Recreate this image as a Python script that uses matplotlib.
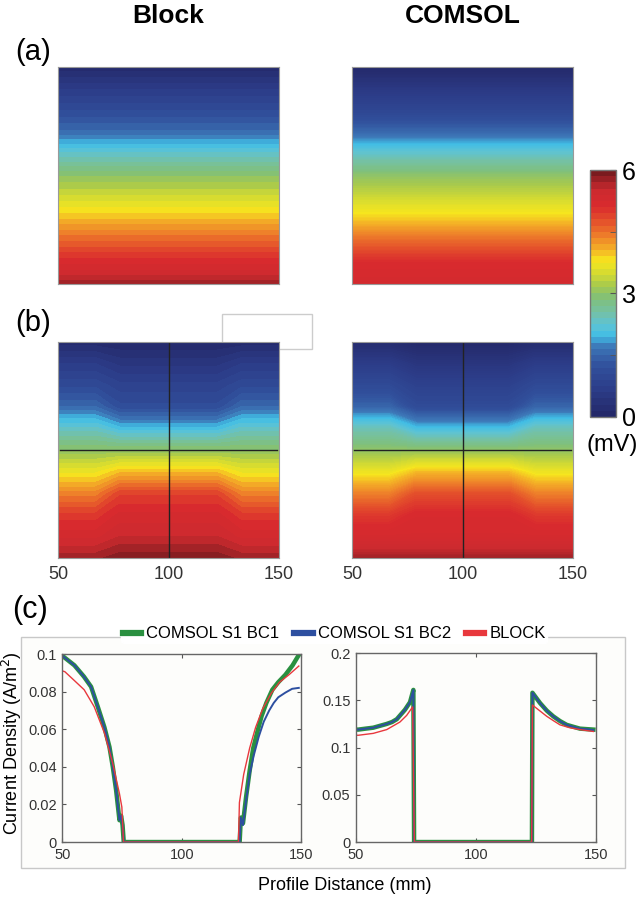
import numpy as np
import matplotlib.pyplot as plt
from matplotlib.colors import LinearSegmentedColormap, Normalize
from matplotlib.cm import ScalarMappable
from matplotlib.patches import Rectangle

plt.rcParams['font.family'] = ['Liberation Sans', 'DejaVu Sans']

# depth fraction of the profile (0 = top, 1 = bottom)
depth = [0.0, 0.1, 0.2, 0.3, 0.4, 0.5, 0.6, 0.7, 0.8, 0.9, 1.0]

# (a) potential in mV, uniform across the width
block_a = [0.05, 0.6, 1.05, 1.55, 2.3, 3.0, 3.5, 4.05, 4.65, 5.2, 5.8]
comsol_a = [0.0, 0.5, 0.9, 1.5, 2.3, 3.0, 3.45, 3.95, 4.6, 5.15, 5.35]

# (b) potential in mV, rows = depth, cols = x position (mm)
block_b_x = [50, 67, 78, 100, 122, 133, 150]
block_b = [
    [0.05, 0.05, 0.0, 0.0, 0.0, 0.05, 0.05],
    [0.6, 0.6, 0.4, 0.4, 0.4, 0.6, 0.6],
    [1.0, 1.0, 0.8, 0.8, 0.8, 1.0, 1.0],
    [1.5, 1.5, 1.1, 1.1, 1.1, 1.5, 1.5],
    [2.3, 2.3, 2.0, 2.0, 2.0, 2.3, 2.3],
    [3.0, 3.0, 3.0, 3.0, 3.0, 3.0, 3.0],
    [3.7, 3.7, 4.0, 4.0, 4.0, 3.7, 3.7],
    [4.4, 4.4, 4.9, 4.9, 4.9, 4.4, 4.4],
    [5.0, 5.0, 5.3, 5.3, 5.3, 5.0, 5.0],
    [5.35, 5.35, 5.55, 5.55, 5.55, 5.35, 5.35],
    [5.8, 5.8, 5.95, 5.95, 5.95, 5.8, 5.8],
]
comsol_b_x = [50, 67, 79, 100, 121, 133, 150]
comsol_b = [
    [0.1, 0.1, 0.0, 0.0, 0.0, 0.1, 0.1],
    [0.6, 0.6, 0.4, 0.4, 0.4, 0.6, 0.6],
    [1.0, 1.0, 0.75, 0.75, 0.75, 1.0, 1.0],
    [1.45, 1.45, 1.05, 1.05, 1.05, 1.45, 1.45],
    [2.4, 2.4, 2.0, 2.0, 2.0, 2.4, 2.4],
    [3.0, 3.0, 3.0, 3.0, 3.0, 3.0, 3.0],
    [3.7, 3.7, 4.0, 4.0, 4.0, 3.7, 3.7],
    [4.4, 4.4, 4.8, 4.8, 4.8, 4.4, 4.4],
    [5.0, 5.0, 5.2, 5.2, 5.2, 5.0, 5.0],
    [5.3, 5.3, 5.3, 5.3, 5.3, 5.3, 5.3],
    [5.8, 5.8, 5.8, 5.8, 5.8, 5.8, 5.8],
]

# (c) current density along the horizontal profile (left) and vertical profile (right)
green_l_x = [50, 51, 53.5, 55, 57, 59, 62, 64.8, 67.6, 69.7, 71.1, 72.5, 73.9, 74.6, 75.2, 75.7,
             124.3, 124.8, 125.7, 127, 128.5, 130, 131.6, 133.5, 135.5, 138, 140.5, 143.5, 146.5, 149.1]
green_l_y = [0.099, 0.098, 0.0955, 0.094, 0.091, 0.088, 0.0826, 0.072, 0.061, 0.0506, 0.040, 0.0275,
             0.0116, 0.014, 0.009, 0.0, 0.0, 0.013, 0.010, 0.024, 0.038, 0.050, 0.058, 0.067, 0.074,
             0.081, 0.085, 0.089, 0.094, 0.0995]
blue_l_x = [50, 51, 53.5, 55, 57, 59, 62, 64.8, 67.6, 69.7, 71.1, 72.5, 73.9, 74.6, 75.2, 75.7,
            124.3, 124.8, 125.7, 127, 128.5, 130.2, 132.3, 134.4, 136.7, 138.6, 140.5, 143.5, 146.3, 149.1]
blue_l_y = [0.099, 0.098, 0.0955, 0.094, 0.091, 0.088, 0.0826, 0.072, 0.061, 0.0506, 0.040, 0.0275,
            0.0116, 0.014, 0.009, 0.0, 0.0, 0.013, 0.009, 0.022, 0.036, 0.046, 0.056, 0.064, 0.070,
            0.074, 0.077, 0.0795, 0.0815, 0.082]
red_l_x = [50, 51, 54.9, 59.1, 63.3, 67.6, 71.1, 73.9, 74.9, 75.6,
           123.8, 124.2, 126, 128.5, 131, 134, 137.5, 141, 145, 149.1]
red_l_y = [0.091, 0.0906, 0.086, 0.081, 0.072, 0.058, 0.0417, 0.0257, 0.0186, 0.0,
           0.0, 0.021, 0.036, 0.050, 0.061, 0.071, 0.079, 0.085, 0.089, 0.0936]

green_r_x = [50, 51, 54, 57.2, 60, 62.8, 65, 67, 70.4, 72.5, 73.9, 74.2,
             123.3, 123.5, 126.7, 129.5, 132.2, 135, 137.8, 140.5, 143.3, 146, 148.9]
green_r_y = [0.119, 0.119, 0.120, 0.121, 0.123, 0.125, 0.127, 0.130, 0.140, 0.148, 0.161, 0.0,
             0.0, 0.158, 0.147, 0.139, 0.133, 0.128, 0.124, 0.122, 0.120, 0.1195, 0.119]
blue_r_x = [50, 51, 54, 57.2, 60, 62.8, 65, 67, 70.4, 72.5, 73.9, 74.2,
            123.3, 123.5, 126.7, 129.5, 132.2, 135, 137.8, 140.5, 143.3, 146, 148.9]
blue_r_y = [0.119, 0.119, 0.120, 0.121, 0.123, 0.125, 0.127, 0.130, 0.140, 0.148, 0.161, 0.0,
            0.0, 0.158, 0.147, 0.139, 0.133, 0.128, 0.124, 0.122, 0.120, 0.1195, 0.1185]
red_r_x = [50, 51, 57.2, 62.8, 68.3, 71.1, 73.6, 74.3,
           123.2, 123.5, 126.5, 129.5, 132.5, 135, 139, 143.3, 148.9]
red_r_y = [0.113, 0.113, 0.115, 0.119, 0.127, 0.134, 0.143, 0.0,
           0.0, 0.145, 0.139, 0.133, 0.128, 0.124, 0.121, 0.119, 0.117]

series_labels = ['COMSOL S1 BC1', 'COMSOL S1 BC2', 'BLOCK']

# soft jet-like colour map as used in the figure
stops = [(0.0, '#24296a'), (0.1, '#2c3c88'), (0.2, '#31509c'), (0.28, '#3d78b8'),
         (0.325, '#40bde6'), (0.37, '#5ec3d3'), (0.42, '#74c1a6'), (0.48, '#80c07a'),
         (0.53, '#a6c94e'), (0.58, '#d2da33'), (0.635, '#f6e61e'), (0.68, '#f4b226'),
         (0.745, '#ed7a2a'), (0.8, '#e4502b'), (0.86, '#d92a2e'), (0.93, '#cc2a2f'),
         (1.0, '#7a1b1f')]
cmap = LinearSegmentedColormap.from_list('softjet', stops, N=256)
norm = Normalize(0, 6)

fig = plt.figure(figsize=(6.44, 9.0), dpi=100)

# empty frame sitting behind the block (b) map
fig.patches.append(Rectangle((0.3447, 0.6122), 0.1398, 0.0389, transform=fig.transFigure,
                             facecolor='white', edgecolor='#cccccc', lw=1, zorder=-1))
# panel (c) frame
fig.patches.append(Rectangle((0.0321, 0.0352), 0.9383, 0.2574, transform=fig.transFigure,
                             facecolor='#fdfdfb', edgecolor='#c8c8c8', lw=1, zorder=-1))


def draw_map(rect, xs, grid, levels):
    ax = fig.add_axes(rect)
    X, Y = np.meshgrid(xs, depth)
    ax.contourf(X, Y, np.array(grid), levels=levels, cmap=cmap, norm=norm)
    ax.set_xlim(50, 150)
    ax.set_ylim(1, 0)
    ax.set_yticks([])
    ax.set_xticks([])
    for s in ax.spines.values():
        s.set_color('#9a9a9a')
        s.set_linewidth(0.8)
    return ax


def column(profile):
    return [[v, v] for v in profile]


ax_ba = draw_map([0.0901, 0.6844, 0.3432, 0.2411], [50, 150], column(block_a), np.linspace(0, 6, 41))
ax_ca = draw_map([0.5466, 0.6844, 0.3432, 0.2411], [50, 150], column(comsol_a), np.linspace(0, 6, 161))
ax_bb = draw_map([0.0901, 0.38, 0.3432, 0.24], block_b_x, block_b, np.linspace(0, 6, 41))
ax_cb = draw_map([0.5466, 0.38, 0.3432, 0.24], comsol_b_x, comsol_b, np.linspace(0, 6, 161))

for ax in (ax_bb, ax_cb):
    ax.axhline(0.5, xmin=0.01, xmax=0.99, color='#222222', lw=1)
    ax.axvline(100, color='#222222', lw=1)
    ax.set_xticks([50, 100, 150])
    ax.tick_params(axis='x', length=0, pad=6, labelsize=13, labelcolor='#333333')

# colour bar
cax = fig.add_axes([0.9161, 0.5367, 0.0404, 0.2744])
cb = fig.colorbar(ScalarMappable(norm=norm, cmap=cmap.resampled(40)), cax=cax, ticks=[0, 3, 6])
cb.outline.set_edgecolor('#777777')
cb.outline.set_linewidth(1)
cax.set_yticks([1.5, 4.5], minor=True)
cax.tick_params(which='both', direction='in', length=4, color='#555555', labelsize=18, pad=4)
cax.set_yticklabels(['0', '3', '6'])
fig.text(0.950, 0.506, '(mV)', ha='center', va='center', fontsize=17)

# titles and panel letters
fig.text(0.2616, 0.982, 'Block', ha='center', va='center', fontsize=19, fontweight='bold')
fig.text(0.7185, 0.982, 'COMSOL', ha='center', va='center', fontsize=19, fontweight='bold')
fig.text(0.051, 0.942, '(a)', ha='center', va='center', fontsize=21)
fig.text(0.051, 0.641, '(b)', ha='center', va='center', fontsize=21)
fig.text(0.047, 0.322, '(c)', ha='center', va='center', fontsize=22)

# panel (c) profiles
colors = ['#2a9040', '#2d4fa0', '#e8383d']
widths = [3.2, 1.4, 1.0]


def style_line_axes(ax, ymax, yticks, ylabels):
    ax.set_facecolor('#fdfdfb')
    ax.set_xlim(50, 150)
    ax.set_ylim(0, ymax)
    ax.set_xticks([50, 100, 150])
    ax.set_yticks(yticks)
    ax.set_yticklabels(ylabels)
    ax.tick_params(direction='in', top=True, right=True, length=3, color='#555555',
                   labelsize=10.5, labelcolor='#333333', pad=4)
    for s in ax.spines.values():
        s.set_color('#666666')
        s.set_linewidth(1)


ax_l = fig.add_axes([0.0970, 0.0644, 0.3703, 0.2089])
for xs, ys, c, w in zip([green_l_x, blue_l_x, red_l_x], [green_l_y, blue_l_y, red_l_y], colors, widths):
    ax_l.plot(xs, ys, color=c, lw=w)
style_line_axes(ax_l, 0.1, [0, 0.02, 0.04, 0.06, 0.08, 0.1], ['0', '0.02', '0.04', '0.06', '0.08', '0.1'])

ax_r = fig.add_axes([0.5528, 0.0644, 0.3727, 0.21])
for xs, ys, c, w in zip([green_r_x, blue_r_x, red_r_x], [green_r_y, blue_r_y, red_r_y], colors, widths):
    ax_r.plot(xs, ys, color=c, lw=w)
style_line_axes(ax_r, 0.2, [0, 0.05, 0.1, 0.15, 0.2], ['0', '0.05', '0.1', '0.15', '0.2'])

handles = [plt.Line2D([], [], color=c, lw=4.5) for c in colors]
fig.legend(handles, series_labels, loc='center', bbox_to_anchor=(0.519, 0.2956), ncol=3,
           frameon=True, facecolor='white', edgecolor='white', framealpha=1, fontsize=12,
           handlelength=1.1, handletextpad=0.3, columnspacing=0.9, borderpad=0.1)

fig.text(0.5357, 0.0156, 'Profile Distance (mm)', ha='center', va='center', fontsize=13)
fig.text(0.0186, 0.1744, 'Current Density (A/m$^2$)', ha='center', va='center', fontsize=13,
         rotation=90)

fig.savefig('out.png', dpi=100)
